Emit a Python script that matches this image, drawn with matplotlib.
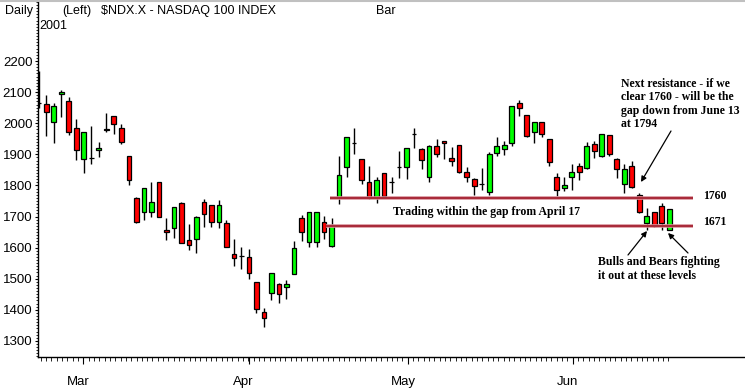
import numpy as np
import matplotlib.pyplot as plt
from matplotlib.ticker import FixedLocator, MultipleLocator
from matplotlib.transforms import ScaledTranslation
from matplotlib.patches import FancyArrowPatch

# Daily OHLC, Feb 20 - Jun 20 2001 (first bar is clipped by the axis)
opens = [2064, 2062, 2003, 2093, 2070, 1984, 1884, 1887, 1913, 1982,
         2022, 1984, 1894, 1760, 1716, 1714, 1810, 1657, 1662, 1743,
         1625, 1627, 1746, 1737, 1683, 1678, 1579, 1572, 1569, 1489,
         1392, 1453, 1482, 1474, 1516, 1694, 1619, 1619, 1681, 1605,
         1764, 1858, 1937, 1884, 1810, 1764, 1839, 1810, 1858, 1858,
         1965, 1917, 1826, 1927, 1943, 1887, 1930, 1842, 1821, 1804,
         1780, 1905, 1916, 1935, 2064, 2026, 1971, 2003, 1948, 1826,
         1791, 1828, 1862, 1857, 1933, 1896, 1962, 1885, 1805, 1862,
         1769, 1680, 1714, 1735, 1657]
highs = [2168, 2091, 2066, 2107, 2083, 2013, 1971, 1991, 1940, 2034,
         2023, 1997, 1894, 1763, 1791, 1810, 1812, 1694, 1732, 1748,
         1676, 1702, 1755, 1737, 1753, 1689, 1628, 1601, 1595, 1490,
         1405, 1519, 1485, 1496, 1621, 1705, 1714, 1714, 1702, 1696,
         1895, 1955, 1984, 1884, 1862, 1826, 1839, 1826, 1912, 1919,
         1984, 1919, 1930, 1948, 1943, 1923, 1930, 1858, 1823, 1855,
         1906, 1957, 1943, 2055, 2075, 2026, 2005, 2005, 1948, 1839,
         1828, 1869, 1871, 1941, 1943, 1965, 1962, 1887, 1868, 1879,
         1777, 1726, 1716, 1742, 1723]
lows = [2049, 1960, 1935, 2021, 1963, 1882, 1839, 1868, 1892, 1973,
        1965, 1934, 1802, 1680, 1689, 1700, 1698, 1624, 1632, 1614,
        1592, 1582, 1667, 1667, 1664, 1601, 1542, 1530, 1498, 1389,
        1346, 1432, 1423, 1435, 1516, 1622, 1603, 1603, 1628, 1603,
        1739, 1828, 1901, 1804, 1756, 1742, 1764, 1777, 1823, 1821,
        1919, 1852, 1812, 1890, 1885, 1863, 1839, 1812, 1769, 1785,
        1769, 1895, 1898, 1928, 2023, 1957, 1937, 1955, 1863, 1767,
        1783, 1785, 1817, 1852, 1889, 1892, 1895, 1825, 1775, 1793,
        1710, 1657, 1667, 1657, 1655]
closes = [2064, 2037, 2056, 2100, 1971, 1913, 1971, 1887, 1920, 1977,
          1999, 1941, 1816, 1683, 1791, 1746, 1700, 1649, 1731, 1616,
          1607, 1700, 1707, 1681, 1737, 1603, 1566, 1572, 1519, 1403,
          1373, 1517, 1450, 1483, 1598, 1649, 1714, 1714, 1651, 1673,
          1833, 1955, 1937, 1817, 1764, 1817, 1767, 1810, 1858, 1919,
          1965, 1882, 1927, 1901, 1935, 1880, 1842, 1826, 1799, 1804,
          1901, 1927, 1930, 2055, 2048, 1960, 2005, 1964, 1876, 1785,
          1801, 1842, 1842, 1927, 1911, 1965, 1901, 1852, 1853, 1794,
          1714, 1702, 1671, 1678, 1723]

months = ['Mar', 'Apr', 'May', 'Jun']
resistance = 1760
support = 1671

W, H = 745, 388
fig = plt.figure(figsize=(W / 100, H / 100), dpi=100)
fig.patch.set_facecolor('white')
ax = fig.add_axes([37.5 / W, (H - 357) / H, (W - 37.5) / W, 357 / H])

# pixel layout of the original: bar i sits at 46.3 + 7.506*i px
step = 7.506
x = np.arange(len(opens)) - 1
o = np.array(opens); c = np.array(closes)
cols = np.where(c > o, '#00ff00', '#ff0000')
ax.vlines(x, lows, highs, color='k', lw=1.0, zorder=2)
h = np.where(np.abs(c - o) < 0.5, 0.5, c - o)
ax.bar(x, h, bottom=o, width=0.63, color=cols, edgecolor='k', linewidth=0.9, zorder=3)

ax.set_xlim((37.5 - 46.3) / step, (745 - 46.3) / step)
ax.set_ylim(2200 - 296 / 0.311, 2200 + 61 / 0.311)

# horizontal gap lines
for lvl, x0 in [(resistance, (330 - 46.3) / step), (support, (326 - 46.3) / step)]:
    x1 = (693 - 46.3) / step
    ax.plot([x0, x1], [lvl, lvl], color='#d89098', lw=2.6, solid_capstyle='butt', zorder=4)
    ax.plot([x0, x1], [lvl, lvl], color='#a01828', lw=1.2, solid_capstyle='butt', zorder=4)

for s in ['top', 'right']:
    ax.spines[s].set_visible(False)
ax.spines['left'].set_linewidth(1.0)
ax.spines['bottom'].set_linewidth(1.0)

# y axis ticks
ax.set_yticks(np.arange(1300, 2201, 100))
ax.yaxis.set_minor_locator(MultipleLocator(10))
ax.tick_params(axis='y', which='major', length=2.2, width=0.8, pad=1.5, labelsize=9.5)
ax.tick_params(axis='y', which='minor', length=1.3, width=0.6)

# x axis: calendar day ticks, months labelled
mpos = [(p - 46.3) / step for p in (83.3, 248.6, 407.9, 572.9)]
dstep = 5.32 / step
days = [mpos[0] + k * dstep for k in range(-8, 111)]
ax.set_xticks(mpos)
ax.set_xticklabels(months)
ax.xaxis.set_minor_locator(FixedLocator(days))
ax.tick_params(axis='x', which='major', length=5, width=0.8, pad=9, labelsize=9.5)
ax.tick_params(axis='x', which='minor', length=2.8, width=0.6)
for lab in ax.get_xticklabels():
    lab.set_transform(lab.get_transform() + ScaledTranslation(-5 / 100, 0, fig.dpi_scale_trans))
for lab in ax.get_xticklabels() + ax.get_yticklabels():
    lab.set_family('Liberation Sans')

# header
hdr = dict(fontsize=9, family='Liberation Sans', va='center', ha='left')
fig.text(5 / W, 1 - 11 / H, 'Daily', **hdr)
fig.text(62 / W, 1 - 11 / H, '(Left)', **hdr)
fig.text(101 / W, 1 - 11 / H, '$NDX.X - NASDAQ 100 INDEX', **hdr)
fig.text(376 / W, 1 - 11 / H, 'Bar', **hdr)
fig.text(39 / W, 1 - 26 / H, '2001', **hdr)
fig.add_artist(plt.Line2D([0, 1], [1 - 0.5 / H, 1 - 0.5 / H], color='#c0c0c0', lw=1.5))

# annotations
ann = dict(fontsize=8.5, family='Liberation Serif', weight='bold', va='center', ha='left')
fig.text(393 / W, 1 - 212 / H, 'Trading within the gap from April 17', **ann)
fig.text(703 / W, 1 - 196 / H, '1760', **ann)
fig.text(703 / W, 1 - 222 / H, '1671', **ann)
fig.text(621 / W, 1 - 104 / H,
         'Next resistance - if we\nclear 1760 - will be the\ngap down from June 13\nat 1794',
         linespacing=1.15, **ann)
fig.text(598 / W, 1 - 269 / H, 'Bulls and Bears fighting\nit out at these levels',
         linespacing=1.15, **ann)

arr = dict(arrowstyle='-|>', color='k', lw=0.9, mutation_scale=8, shrinkA=0, shrinkB=0)
for (x1, y1), (x2, y2) in [((671, 131), (641, 182)), ((628, 255), (647, 231)),
                           ((688, 253), (668, 233))]:
    fig.add_artist(FancyArrowPatch((x1 / W, 1 - y1 / H), (x2 / W, 1 - y2 / H),
                                   transform=fig.transFigure, **arr))

fig.savefig('out.png', dpi=100)
